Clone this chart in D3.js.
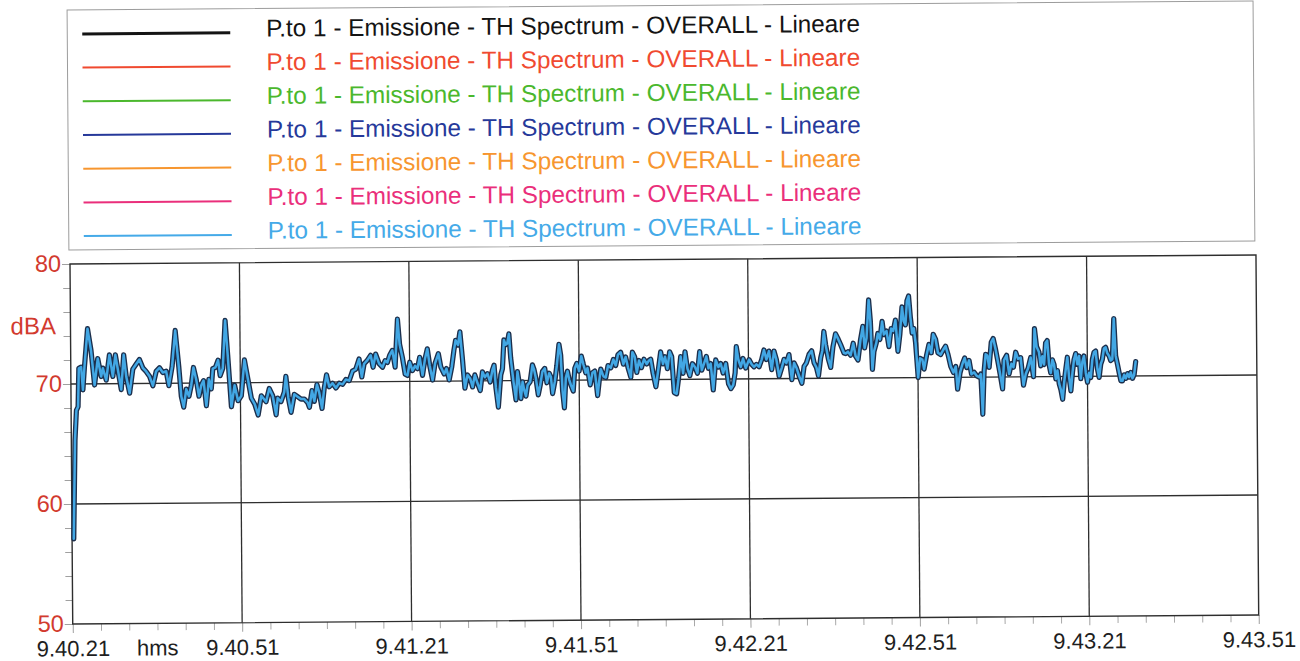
<!DOCTYPE html>
<html>
<head>
<meta charset="utf-8">
<script src="https://cdn.jsdelivr.net/npm/d3@7"></script>
<style>
  html, body { margin: 0; padding: 0; background: #fff; }
  svg { display: block; font-family: "Liberation Sans", Arial, sans-serif; }
</style>
</head>
<body>
<svg id="chart" width="1300" height="661"></svg>
<script>
// Sound level, Punto 1 - emission, overall A-weighted level vs clock time
// seconds elapsed since 9.40.21
const seconds = [
  0.3, 0.65, 0.94, 1.24, 1.42, 1.83, 2.12, 2.42, 3.01, 3.6,
  4.19, 4.78, 5.37, 5.67, 6.26, 6.85, 7.44, 7.91, 8.32, 8.91,
  9.38, 9.8, 10.39, 10.98, 11.57, 12.16, 12.75, 13.34, 13.93, 14.52,
  15.11, 15.7, 16.29, 16.88, 17.35, 17.94, 18.53, 19.12, 19.53, 19.95,
  20.42, 20.89, 21.3, 21.72, 22.19, 22.66, 23.08, 23.49, 23.96, 24.43,
  24.85, 25.14, 25.62, 26.09, 26.44, 26.91, 27.38, 27.8, 28.39, 28.98,
  29.57, 30.16, 30.75, 31.34, 31.93, 32.52, 33.11, 33.7,
  34.53, 35.12, 35.71, 36.3, 36.59, 37.18, 37.77, 38.07, 38.48, 38.95,
  39.54, 40.13, 40.72, 41.31, 41.9, 42.2, 42.67, 43.08, 43.56, 43.97,
  44.44, 44.85, 45.27, 45.74, 46.33, 46.92, 47.51, 48.1, 48.69, 49.28,
  49.87, 50.46, 51.05, 51.52, 51.94, 52.53, 53.12, 53.53, 54.0, 54.6,
  55.19, 55.66, 56.07, 56.48, 56.96, 57.43, 57.9, 58.25, 58.73, 59.2,
  59.61, 60.03, 60.5, 60.97, 61.38, 61.79, 62.27, 62.74, 63.15, 63.56,
  64.04, 64.51, 65.1, 65.51, 66.1, 66.52, 66.98, 67.46, 67.87,
  68.17, 68.58, 68.94, 69.35, 69.76, 70.24, 70.71, 71.12, 71.53, 72.0,
  72.47, 72.88, 73.3, 73.77, 74.24, 74.65, 74.95, 75.25, 75.66, 76.13,
  76.43, 76.72, 77.02, 77.31, 77.61, 77.9, 78.37, 78.79, 79.08, 79.38,
  79.67, 79.97, 80.26, 80.56, 80.85, 81.32, 81.74, 82.03, 82.33, 82.74,
  83.09, 83.51, 83.92, 84.28, 84.69, 84.99, 85.28, 85.69, 86.05, 86.46,
  86.76, 87.05, 87.35, 87.64, 87.94, 88.23, 88.53, 88.94, 89.24, 89.59,
  90.0, 90.41, 90.77, 91.18, 91.48, 91.95, 92.36, 92.78, 93.25, 93.54,
  93.84, 94.31, 94.72, 95.13, 95.61, 96.08, 96.49, 96.9, 97.38, 97.85,
  98.26, 98.67, 99.15, 99.45, 99.86, 100.21, 100.62, 101.04, 101.5, 101.98,
  102.39,
  102.69, 103.1, 103.58, 104.05, 104.46, 104.87, 105.23, 105.64, 106.05, 106.41,
  106.82, 107.24, 107.59, 108.0, 108.41, 108.77, 109.18, 109.6, 110.07, 110.54,
  110.95, 111.37, 111.72, 112.13, 112.55, 112.9, 113.31, 113.73, 114.2, 114.67,
  115.08, 115.5, 115.97, 116.44, 116.86, 117.27, 117.62, 117.86, 118.21, 118.63,
  119.04, 119.51, 120.1, 120.57, 120.98, 121.4, 121.87, 122.34, 122.76, 123.17,
  123.64, 124.11, 124.53, 124.94, 125.41, 125.88, 126.3, 126.71, 127.18, 127.66,
  128.07, 128.48, 128.95, 129.43, 129.84, 130.26, 130.73, 131.2, 131.61, 132.03,
  132.38, 132.79, 133.09, 133.38, 133.68, 134.15, 134.56, 134.97, 135.45, 135.92,
  136.33, 136.92,
  137.22, 137.63, 138.1, 138.57, 138.99, 139.4, 139.87, 140.29, 140.58, 140.93,
  141.35, 141.64, 141.94, 142.23, 142.65, 142.94, 143.3, 143.71, 144.0, 144.48,
  144.89, 145.3, 145.66, 146.07, 146.48, 146.84, 147.25, 147.54, 147.84, 148.13,
  148.43, 148.73, 149.02, 149.32, 149.61, 150.03, 150.38, 150.79, 151.09, 151.56,
  151.97, 152.38, 152.74, 153.15, 153.56, 154.04, 154.51, 154.92, 155.34, 155.81,
  156.28, 156.7, 156.99, 157.46, 157.88, 158.29, 158.64, 159.06, 159.47, 159.94,
  160.41, 160.83, 161.12, 161.42, 161.71, 162.0, 162.3, 162.6, 163.01, 163.36,
  163.77, 164.19, 164.54, 164.96, 165.25, 165.72, 166.13, 166.55, 166.9, 167.32,
  167.73, 168.2, 168.67, 169.09, 169.5, 169.97, 170.45, 170.68, 171.03, 171.44,
  171.74, 172.04, 172.33, 172.63, 172.92, 173.22, 173.51, 173.81, 174.1, 174.4,
  174.69, 174.99, 175.28, 175.58, 175.87, 176.17, 176.46, 176.76, 177.05, 177.35,
  177.64, 177.94, 178.23, 178.53, 178.82, 179.12, 179.41, 179.71, 180.0, 180.3,
  180.59, 180.89, 181.19, 181.48, 181.78, 182.07, 182.37, 182.66, 182.96, 183.25,
  183.55, 183.84, 184.14, 184.43, 184.73, 185.02, 185.32, 185.61, 185.91, 186.2,
  186.5, 186.79, 187.09, 187.38, 187.68, 187.97, 188.27, 188.56
];

// overall level, dBA
const levels = [
  57.1, 65.3, 67.8, 68.1, 71.3, 71.4, 69.5, 71.4, 74.6, 72.8,
  69.9, 72.1, 70.6, 71.3, 70.3, 72.4, 70.6, 72.4, 71.2, 69.5,
  72.4, 70.6, 69.2, 71.2, 71.6, 72.0, 71.3, 71.0, 70.6, 69.8,
  71.0, 71.3, 70.9, 71.0, 69.8, 71.4, 74.4, 71.4, 68.9, 68.0,
  69.5, 68.9, 69.8, 71.3, 70.3, 68.9, 69.8, 70.2, 68.1, 70.3,
  69.5, 71.2, 71.3, 71.9, 70.6, 71.2, 75.2, 72.3, 68.0, 69.8,
  68.5, 68.9, 71.9, 70.3, 68.7, 68.2, 67.3, 68.9,
  68.4, 69.5, 68.9, 67.3, 68.7, 68.4, 69.2, 70.5, 68.7, 67.5,
  69.0, 68.8, 68.6, 68.6, 68.3, 67.9, 69.3, 68.4, 69.8, 69.1,
  67.8, 69.5, 70.6, 69.6, 69.9, 69.5, 69.9, 69.8, 70.2, 70.1,
  70.9, 71.05, 71.9, 70.4, 71.5, 71.8, 72.2, 71.2, 72.3, 71.5,
  71.2, 71.75, 71.6, 72.2, 72.6, 71.2, 75.2, 73.1, 72.0, 70.6,
  70.5, 71.6, 70.9, 71.3, 71.05, 72.0, 70.5, 71.9, 72.7, 71.3,
  70.1, 71.5, 72.3, 71.2, 70.6, 71.05, 70.1, 71.2, 72.6,
  73.4, 73.0, 74.1, 71.9, 69.4, 70.5, 70.2, 69.5, 70.5, 69.8,
  69.2, 70.75, 70.3, 70.6, 69.9, 70.9, 71.3, 69.4, 67.8, 70.5,
  71.0, 73.4, 73.0, 73.1, 73.9, 71.9, 69.9, 68.4, 70.75, 69.8,
  68.5, 69.9, 69.2, 68.7, 69.6, 69.9, 71.3, 70.9, 70.2, 68.8,
  69.6, 70.75, 71.0, 69.8, 70.6, 70.3, 68.9, 69.9, 71.2, 73.0,
  72.1, 69.1, 67.7, 70.2, 70.75, 70.05, 69.6, 69.1, 71.0, 71.4,
  70.75, 72.0, 71.3, 70.6, 71.0, 69.6, 70.6, 70.75, 68.7, 69.9,
  70.9, 70.3, 70.2, 71.2, 71.0, 71.7, 71.2, 72.1, 72.3, 71.3,
  71.9, 71.0, 70.2, 72.3, 71.9, 70.6, 71.6, 71.0, 71.7, 71.3,
  71.6,
  71.7, 70.5, 69.4, 70.9, 72.3, 71.3, 71.9, 70.9, 72.3, 71.9,
  68.9, 68.8, 70.05, 71.9, 70.5, 72.3, 70.9, 70.3, 71.3, 71.0,
  70.5, 72.3, 70.75, 71.3, 71.9, 70.9, 71.3, 69.1, 71.6, 71.0,
  71.3, 70.5, 71.3, 69.6, 69.2, 69.5, 70.5, 72.7, 71.6, 71.0,
  71.7, 70.9, 71.6, 71.2, 71.0, 71.2, 71.0, 71.6, 72.4, 71.6,
  72.3, 70.75, 72.3, 71.6, 70.2, 70.9, 71.6, 71.3, 72.0, 69.9,
  71.3, 70.9, 70.2, 69.6, 71.0, 71.3, 72.0, 72.3, 71.3, 70.9,
  70.2, 71.7, 72.3, 73.9, 72.8, 71.6, 70.9, 72.6, 73.7, 73.25,
  72.8, 72.1,
  72.05, 72.2, 71.9, 72.9, 71.8, 71.5, 73.2, 74.3, 72.5, 73.3,
  76.5, 74.7, 70.7, 72.2, 72.9, 73.7, 73.2, 74.7, 73.6, 73.9,
  72.6, 74.1, 73.9, 74.8, 72.2, 73.6, 75.9, 74.7, 74.4, 76.4,
  76.8, 75.0, 73.7, 74.1, 72.9, 70.0, 71.6, 71.5, 70.7, 71.9,
  72.75, 72.05, 73.6, 73.2, 72.05, 71.9, 72.3, 72.6, 71.9, 70.9,
  70.4, 70.9, 69.0, 70.4, 71.1, 71.6, 70.8, 71.4, 70.25, 70.4,
  70.1, 70.0, 70.25, 66.9, 70.5, 71.9, 71.8, 70.8, 72.9, 73.2,
  72.3, 71.2, 70.25, 69.0, 71.4, 71.8, 70.25, 71.1, 70.8, 72.05,
  71.5, 71.6, 69.3, 70.25, 70.7, 71.6, 70.0, 74.0, 72.5, 72.05,
  70.9, 71.7, 71.0, 72.8, 73.0, 71.0, 70.3, 71.4, 71.0, 69.8,
  70.5, 69.4, 68.9, 68.1, 69.5, 70.6, 71.6, 69.9, 68.8, 70.3,
  71.4, 71.9, 71.0, 71.7, 69.8, 71.2, 71.7, 70.3, 69.5, 70.3,
  69.9, 71.4, 72.0, 72.1, 70.6, 69.9, 71.0, 71.4, 72.3, 72.4,
  71.9, 71.7, 71.3, 71.4, 74.8, 71.7, 71.0, 70.3, 69.6, 69.6,
  70.1, 69.8, 70.2, 69.9, 70.3, 69.8, 70.1, 71.2
];

// axis ticks
const timeTicks = [0, 30, 60, 90, 120, 150, 180, 210];
const timeLabels = ["9.40.21", "9.40.51", "9.41.21", "9.41.51", "9.42.21", "9.42.51", "9.43.21", "9.43.51"];
const levelTicks = [50, 60, 70, 80];

// legend entries (all seven traces share the same measurement)
const legendNames = [
  "P.to 1 - Emissione - TH Spectrum - OVERALL - Lineare",
  "P.to 1 - Emissione - TH Spectrum - OVERALL - Lineare",
  "P.to 1 - Emissione - TH Spectrum - OVERALL - Lineare",
  "P.to 1 - Emissione - TH Spectrum - OVERALL - Lineare",
  "P.to 1 - Emissione - TH Spectrum - OVERALL - Lineare",
  "P.to 1 - Emissione - TH Spectrum - OVERALL - Lineare",
  "P.to 1 - Emissione - TH Spectrum - OVERALL - Lineare"
];
const legendColors = ["#141414", "#f04a30", "#4bb82d", "#26399a", "#f7962f", "#ea2f7b", "#45aae8"];

const data = seconds.map((s, i) => ({ s, v: levels[i] }));

const plot = { left: 70, top: 264, right: 1256, bottom: 624 };
const svg = d3.select("#chart");
// the printed sheet sits very slightly tilted
const root = svg.append("g").attr("transform", `rotate(-0.435 ${plot.left} ${plot.top})`);

const x = d3.scaleLinear().domain([0, 210]).range([plot.left, plot.right]);
const y = d3.scaleLinear().domain([50, 80]).range([plot.bottom, plot.top]);

// legend
const legend = root.append("g");
legend.append("rect")
  .attr("x", 69).attr("y", 10).attr("width", 1186).attr("height", 240)
  .attr("fill", "none").attr("stroke", "#9c9c9c").attr("stroke-width", 1);
const rows = legend.selectAll("g.row").data(legendNames).join("g")
  .attr("class", "row")
  .attr("transform", (d, i) => `translate(0, ${35 + i * 33.7})`);
rows.append("line")
  .attr("x1", 84).attr("x2", 232).attr("y1", -1).attr("y2", -1)
  .attr("stroke", (d, i) => legendColors[i])
  .attr("stroke-width", (d, i) => i === 0 ? 3 : 2);
rows.append("text")
  .attr("x", 268).attr("y", 3)
  .attr("font-size", 24.3)
  .attr("fill", (d, i) => legendColors[i])
  .text(d => d);

// grid
const grid = root.append("g");
grid.selectAll("line.v").data(timeTicks.slice(1, -1)).join("line")
  .attr("x1", d => x(d)).attr("x2", d => x(d))
  .attr("y1", plot.top).attr("y2", plot.bottom)
  .attr("stroke", "#2e2e2e").attr("stroke-width", 1.3);
grid.selectAll("line.h").data(levelTicks.slice(1, -1)).join("line")
  .attr("x1", plot.left).attr("x2", plot.right)
  .attr("y1", d => y(d)).attr("y2", d => y(d))
  .attr("stroke", "#2e2e2e").attr("stroke-width", 1.3);

// y axis: minor ticks every 2 dB, labelled every 10 dB
const yMinor = d3.axisLeft(y).tickValues(d3.range(52, 80, 2).filter(d => d % 10 !== 0))
  .tickSize(7).tickFormat("");
root.append("g").attr("transform", `translate(${plot.left},0)`).call(yMinor)
  .call(g => g.select(".domain").remove())
  .call(g => g.selectAll(".tick line").attr("stroke", "#a0a0a0"));
const yAxis = d3.axisLeft(y).tickValues(levelTicks).tickSize(8).tickPadding(1).tickFormat(d3.format("d"));
root.append("g").attr("transform", `translate(${plot.left},0)`).call(yAxis)
  .call(g => g.select(".domain").remove())
  .call(g => g.selectAll(".tick line").attr("stroke", "#a0a0a0"))
  .call(g => g.selectAll(".tick text")
    .attr("font-family", "'Liberation Sans', Arial, sans-serif")
    .attr("font-size", 23.5).attr("fill", "#d23a2e").attr("dy", "0.3em"));
root.append("text").attr("x", 10).attr("y", 334)
  .attr("font-size", 24).attr("fill", "#d23a2e").text("dBA");

// x axis: minor ticks every 5 s, labelled every 30 s
const xMinor = d3.axisBottom(x).tickValues(d3.range(5, 210, 5).filter(d => d % 30 !== 0))
  .tickSize(7).tickFormat("");
root.append("g").attr("transform", `translate(0,${plot.bottom})`).call(xMinor)
  .call(g => g.select(".domain").remove())
  .call(g => g.selectAll(".tick line").attr("stroke", "#a8a8a8"));
const xAxis = d3.axisBottom(x).tickValues(timeTicks).tickSize(9).tickPadding(7.6)
  .tickFormat((d, i) => timeLabels[i]);
root.append("g").attr("transform", `translate(0,${plot.bottom})`).call(xAxis)
  .call(g => g.select(".domain").remove())
  .call(g => g.selectAll(".tick line").attr("stroke", "#a0a0a0"))
  .call(g => g.selectAll(".tick text")
    .attr("font-family", "'Liberation Sans', Arial, sans-serif")
    .attr("font-size", 22).attr("fill", "#1e1e1e"));
root.append("text").attr("x", x(15)).attr("y", plot.bottom + 32)
  .attr("text-anchor", "middle").attr("font-size", 22).attr("fill", "#1e1e1e").text("hms");

// plot frame
root.append("rect")
  .attr("x", plot.left).attr("y", plot.top)
  .attr("width", plot.right - plot.left).attr("height", plot.bottom - plot.top)
  .attr("fill", "none").attr("stroke", "#2e2e2e").attr("stroke-width", 1.4);

// traces: dark trace underneath, light-blue trace on top
const line = d3.line().x(d => x(d.s)).y(d => y(d.v));
root.append("path").datum(data).attr("d", line)
  .attr("fill", "none").attr("stroke", "#1c2f4c").attr("stroke-width", 5.2)
  .attr("stroke-linejoin", "round").attr("stroke-linecap", "round");
root.append("path").datum(data).attr("d", line)
  .attr("fill", "none").attr("stroke", "#42a7e4").attr("stroke-width", 2.5)
  .attr("stroke-linejoin", "round").attr("stroke-linecap", "round");
</script>
</body>
</html>
